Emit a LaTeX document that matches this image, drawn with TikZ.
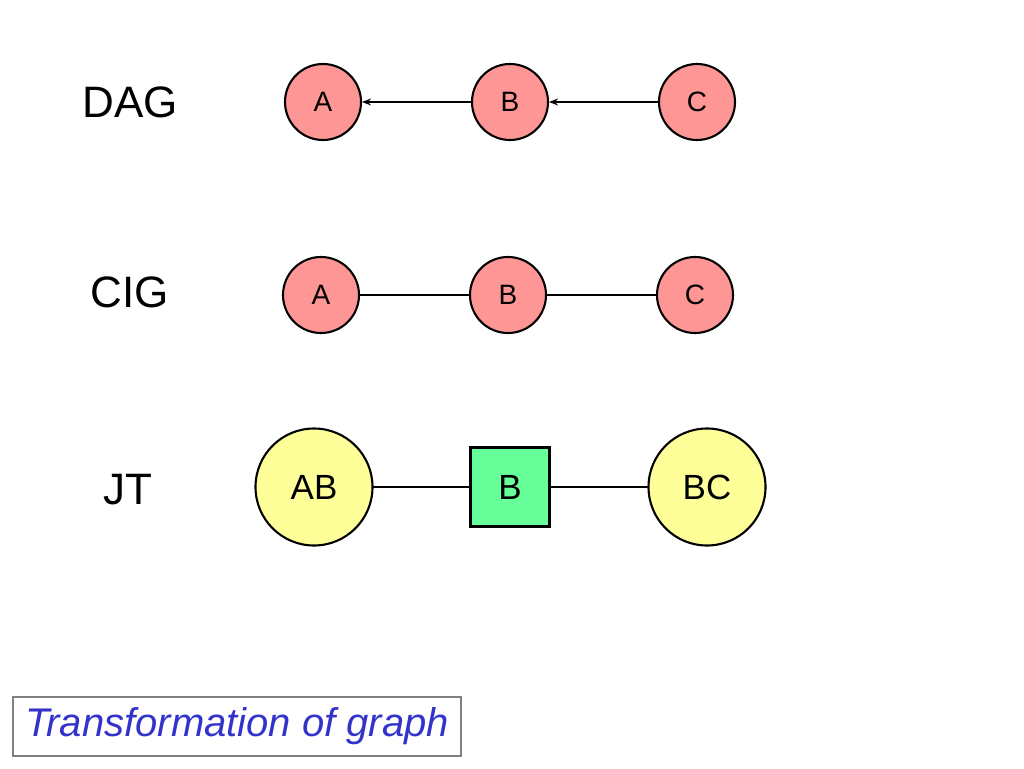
\documentclass[tikz,border=0pt]{standalone}
\usepackage{fontspec}
\setmainfont{Liberation Sans}
\usetikzlibrary{arrows.meta}
\definecolor{pinkfill}{RGB}{255,150,150}
\definecolor{yellowfill}{RGB}{255,255,153}
\definecolor{greenfill}{RGB}{102,255,153}
\definecolor{titleblue}{RGB}{51,51,204}
\tikzset{>={Stealth[length=9pt,width=7pt]},
  varnode/.style={circle,draw,line width=2.1pt,fill=pinkfill,minimum size=76pt,
    inner sep=0pt,font=\fontsize{28}{32}\selectfont},
  cliquenode/.style={circle,draw,line width=2.1pt,fill=yellowfill,minimum size=117pt,
    inner sep=0pt,font=\fontsize{35}{40}\selectfont},
  sepnode/.style={rectangle,draw,line width=2.1pt,fill=greenfill,minimum size=79pt,
    inner sep=0pt,font=\fontsize{35}{40}\selectfont},
  rowlabel/.style={font=\fontsize{44}{50}\selectfont},
  link/.style={line width=1.6pt}}
\begin{document}
\begin{tikzpicture}[x=1pt,y=-1pt,line cap=round]
  \useasboundingbox (0,0) rectangle (1024,768);

  % DAG
  \node [rowlabel] (dag) at (130,102) {DAG};
  \node [varnode] (dagA) at (323,102) {A};
  \node [varnode] (dagB) at (510,102) {B};
  \node [varnode] (dagC) at (697,102) {C};
  \draw [link,->] (dagB) -- (dagA);
  \draw [link,->] (dagC) -- (dagB);

  % CIG
  \node [rowlabel] (cig) at (130,292) {CIG};
  \node [varnode] (cigA) at (321,295) {A};
  \node [varnode] (cigB) at (508,295) {B};
  \node [varnode] (cigC) at (695,295) {C};
  \draw [link] (cigA) -- (cigB);
  \draw [link] (cigB) -- (cigC);

  % JT
  \node [rowlabel] (jt) at (128,490) {JT};
  \node [cliquenode] (jtAB) at (314,487) {AB};
  \node [sepnode] (jtB) at (510,487) {B};
  \node [cliquenode] (jtBC) at (707,487) {BC};
  \draw [link] (jtAB) -- (jtB);
  \draw [link] (jtB) -- (jtBC);

  \node [draw=gray,line width=1.4pt,minimum width=448pt,minimum height=59pt,
    text=titleblue,font=\fontsize{40}{46}\selectfont\itshape] (title) at (237,726.5)
    {Transformation of graph};
\end{tikzpicture}
\end{document}
